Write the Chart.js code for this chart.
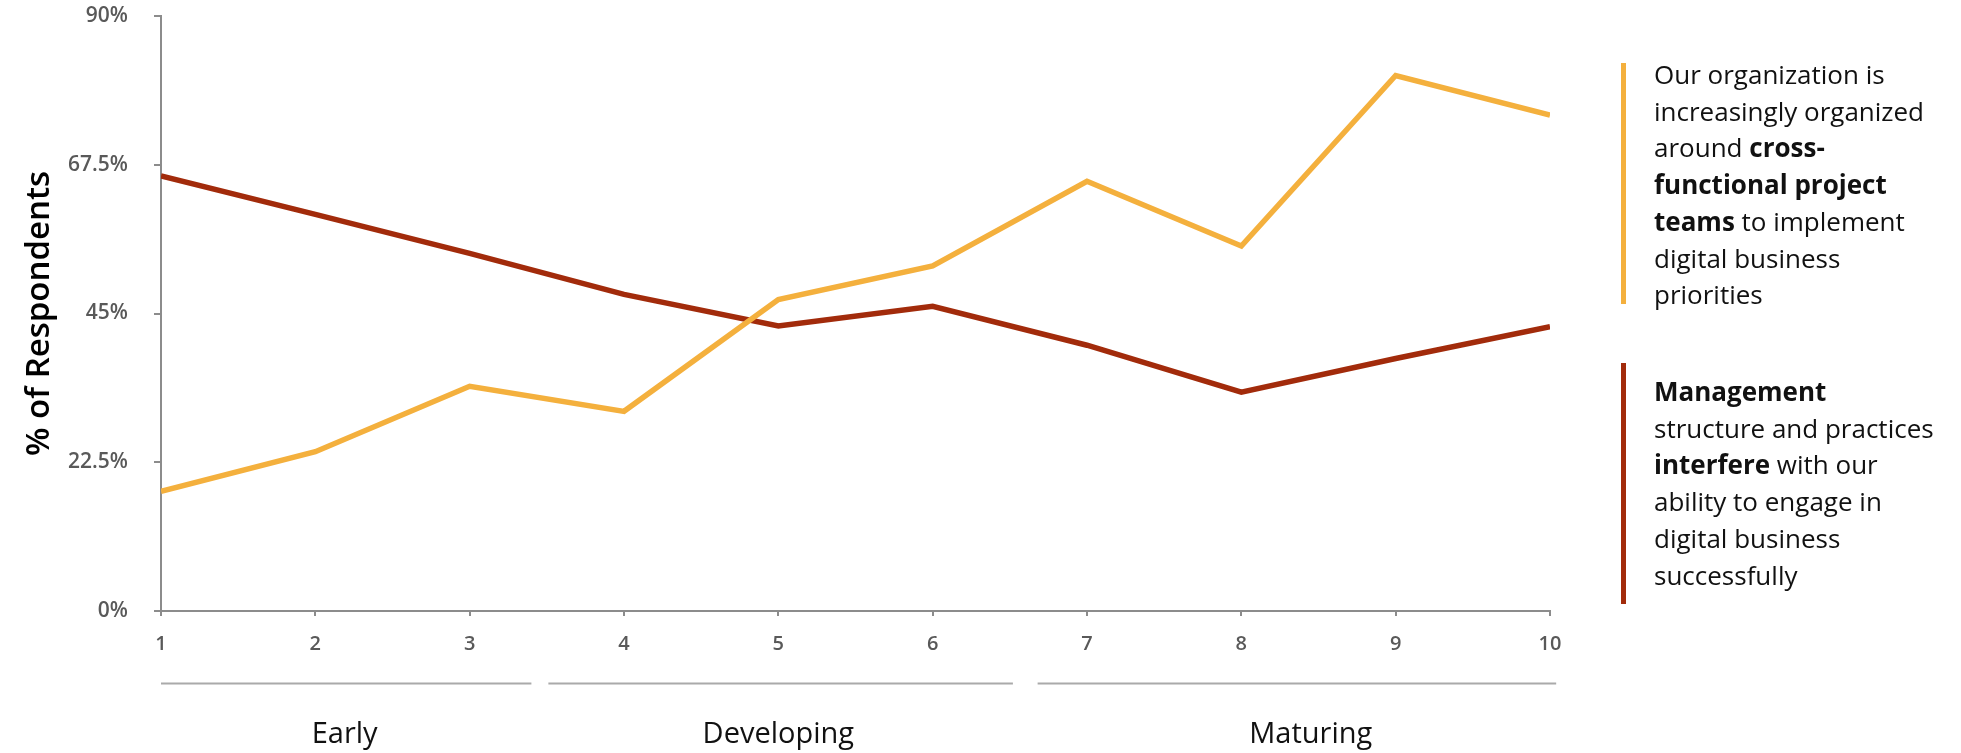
<!DOCTYPE html>
<html>
<head>
<meta charset="utf-8">
<script src="https://cdn.jsdelivr.net/npm/chart.js@4/dist/chart.umd.min.js"></script>
<style>
  html, body { margin: 0; padding: 0; background: #ffffff; }
  body { width: 1961px; height: 753px; position: relative; overflow: hidden;
         font-family: "Open Sans", "Noto Sans", sans-serif; }
  #wrap { position: absolute; left: 0; top: 0; width: 1961px; height: 753px; }
  .note { position: absolute; left: 1654px; font-size: 26px; line-height: 36.7px;
          color: #111; white-space: nowrap; }
  .note b { font-weight: 700; }
  .bar { position: absolute; left: 1621px; width: 5px; }
</style>
</head>
<body>
<div id="wrap"><canvas id="c" width="1961" height="753"></canvas></div>
<div class="bar" style="top:63px; height:241px; background:#F4B03D;"></div>
<div class="note" style="top:56px;">
  Our organization is<br>increasingly organized<br>around <b>cross-</b><br><b>functional project</b><br><b>teams</b> to implement<br>digital business<br>priorities
</div>
<div class="bar" style="top:363px; height:241px; background:#A22B0B;"></div>
<div class="note" style="top:373px;">
  <b>Management</b><br>structure and practices<br><b>interfere</b> with our<br>ability to engage in<br>digital business<br>successfully
</div>
<script>
// Digital maturity stages (1 = least mature, 10 = most mature)
const stages = [1, 2, 3, 4, 5, 6, 7, 8, 9, 10];

// % of respondents who agree
const crossFunctionalTeams = [18.1, 24.1, 34.0, 30.2, 47.1, 52.2, 65.0, 55.2, 81.0, 75.0];
const managementInterferes = [65.8, 60.0, 54.1, 47.9, 43.1, 46.1, 40.2, 33.1, 38.2, 43.0];

// Y axis ticks
const yTicks = [0, 22.5, 45, 67.5, 90];

// Stage groupings shown under the axis
const groupNames = ['Early', 'Developing', 'Maturing'];
const groupFirst = [1, 4, 7];
const groupLast = [3, 6, 10];

const ORANGE = '#F4B03D';
const RED = '#A22B0B';
const AXIS = '#8c8c8c';
const TICK_TEXT = '#595959';

const groupBrackets = {
  id: 'groupBrackets',
  afterDraw(chart) {
    const ctx = chart.ctx;
    const x = chart.scales.x;
    // bracket extents relative to first/last stage in each group
    const padL = [0, 0.49, 0.32];
    const padR = [0.40, 0.52, 0.04];
    const labelAt = [2.19, 5.0, 8.45];
    ctx.save();
    ctx.strokeStyle = '#aaaaaa';
    ctx.lineWidth = 2;
    ctx.fillStyle = '#111111';
    ctx.font = '400 29px "Open Sans"';
    ctx.textAlign = 'center';
    ctx.textBaseline = 'middle';
    groupNames.forEach((name, i) => {
      const x0 = x.getPixelForValue(groupFirst[i] - padL[i]);
      const x1 = x.getPixelForValue(groupLast[i] + padR[i]);
      ctx.beginPath();
      ctx.moveTo(x0, 683.5);
      ctx.lineTo(x1, 683.5);
      ctx.stroke();
      ctx.fillText(name, x.getPixelForValue(labelAt[i]), 735);
    });
    ctx.restore();
  }
};

new Chart(document.getElementById('c'), {
  type: 'line',
  data: {
    datasets: [
      {
        label: 'Cross-functional project teams',
        data: stages.map((s, i) => ({ x: s, y: crossFunctionalTeams[i] })),
        borderColor: ORANGE,
        borderWidth: 5.5,
        pointRadius: 0,
        tension: 0,
        fill: false
      },
      {
        label: 'Management interferes',
        data: stages.map((s, i) => ({ x: s, y: managementInterferes[i] })),
        borderColor: RED,
        borderWidth: 5.5,
        pointRadius: 0,
        tension: 0,
        fill: false
      }
    ]
  },
  options: {
    responsive: false,
    animation: false,
    devicePixelRatio: 1,
    layout: { padding: { left: 0, right: 411, top: 16, bottom: 0 } },
    plugins: { legend: { display: false }, tooltip: { enabled: false } },
    scales: {
      x: {
        type: 'linear',
        min: 1,
        max: 10,
        afterFit(s) { s.height = 142; },
        afterBuildTicks(s) { s.ticks = stages.map(v => ({ value: v })); },
        border: { display: true, color: AXIS, width: 2 },
        grid: { display: true, drawOnChartArea: false, drawTicks: true, tickLength: 5, color: AXIS, lineWidth: 2 },
        ticks: {
          color: TICK_TEXT,
          font: { family: 'Open Sans', size: 20, weight: '600' },
          padding: 16,
          maxRotation: 0,
          callback: v => String(v)
        }
      },
      y: {
        min: 0,
        max: 90,
        afterFit(s) { s.width = 161; s.paddingTop = 0; s.paddingBottom = 0; },
        afterBuildTicks(s) { s.ticks = yTicks.map(v => ({ value: v })); },
        border: { display: true, color: AXIS, width: 2 },
        grid: { display: true, drawOnChartArea: false, drawTicks: true, tickLength: 7, color: AXIS, lineWidth: 2 },
        ticks: {
          color: TICK_TEXT,
          font: { family: 'Open Sans', size: 21, weight: '600' },
          padding: 26,
          callback: v => v + '%'
        },
        title: {
          display: true,
          text: '% of Respondents',
          color: '#000000',
          font: { family: 'Open Sans', size: 33, weight: '600' },
          padding: { top: 20, bottom: 0 }
        }
      }
    }
  },
  plugins: [groupBrackets]
});
</script>
</body>
</html>
